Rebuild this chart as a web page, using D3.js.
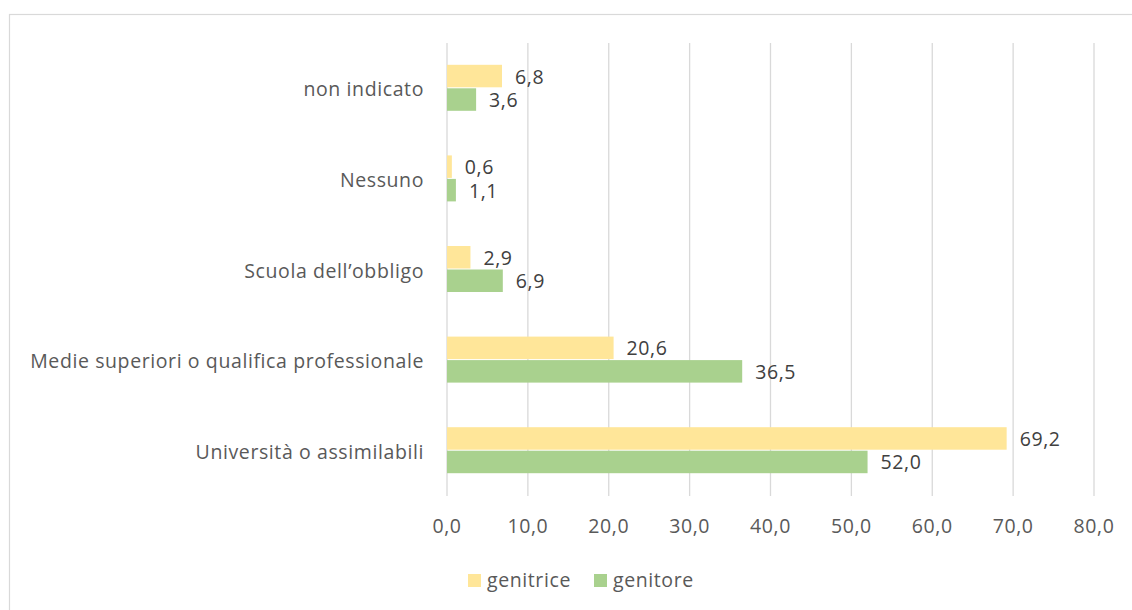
<html>
<head>
  <meta charset="utf-8">
  <title>bar</title>
  <script src="https://d3js.org/d3.v7.min.js"></script>
  <style>
    body { margin: 0; background: #fff; }
    text { font-family: "Open Sans", sans-serif; letter-spacing: 0.6px; }
  </style>
</head>
<body>
<script>
var categories = ["non indicato", "Nessuno", "Scuola dell\u2019obbligo", "Medie superiori o qualifica professionale", "Universit\u00e0 o assimilabili"];
var series = ["genitrice", "genitore"];
var genitrice = [6.8, 0.6, 2.9, 20.6, 69.2];
var genitore = [3.6, 1.1, 6.9, 36.5, 52.0];
var ticks = [0, 10, 20, 30, 40, 50, 60, 70, 80];

var colors = {genitrice: "#FFE699", genitore: "#A9D18E"};
var width = 1132, height = 610;
var fs = 19.5;

var svg = d3.select("body").append("svg")
  .attr("width", width).attr("height", height);

// chart frame (continues off the picture)
svg.append("rect")
  .attr("x", 9.5).attr("y", 14.5)
  .attr("width", 1140).attr("height", 620)
  .attr("fill", "none").attr("stroke", "#d9d9d9").attr("stroke-width", 1.2);

var x = d3.scaleLinear().domain([0, 80]).range([447, 1094]);
var y = d3.scaleBand().domain(categories).range([43, 496]);
var inner = d3.scaleBand().domain(series).range([0, 47]);
var off = (y.bandwidth() - 47) / 2;

// grid
svg.append("g").selectAll("line")
  .data(ticks).enter().append("line")
  .attr("x1", function(d){ return x(d); })
  .attr("x2", function(d){ return x(d); })
  .attr("y1", 43).attr("y2", 496)
  .attr("stroke", "#d9d9d9").attr("stroke-width", 1.3);

// x tick labels
svg.append("g").selectAll("text")
  .data(ticks).enter().append("text")
  .attr("x", function(d){ return x(d); })
  .attr("y", 533)
  .attr("text-anchor", "middle")
  .attr("font-size", fs)
  .attr("fill", "#595959")
  .text(function(d){ return d3.format(".1f")(d).replace(".", ","); });

// category labels
svg.append("g").selectAll("text")
  .data(categories).enter().append("text")
  .attr("x", 424)
  .attr("y", function(d){ return y(d) + y.bandwidth() / 2 + 8; })
  .attr("text-anchor", "end")
  .attr("font-size", fs)
  .attr("fill", "#595959")
  .text(function(d){ return d; });

var rows = [];
categories.forEach(function(c, i){
  rows.push({cat: c, s: "genitrice", v: genitrice[i]});
  rows.push({cat: c, s: "genitore", v: genitore[i]});
});

var bars = svg.append("g");
bars.selectAll("rect")
  .data(rows).enter().append("rect")
  .attr("x", x(0))
  .attr("y", function(d){ return y(d.cat) + off + inner(d.s); })
  .attr("width", function(d){ return x(d.v) - x(0); })
  .attr("height", inner.bandwidth() - 1)
  .attr("fill", function(d){ return colors[d.s]; });

bars.selectAll("text")
  .data(rows).enter().append("text")
  .attr("x", function(d){ return x(d.v) + 13; })
  .attr("y", function(d){ return y(d.cat) + off + inner(d.s) + inner.bandwidth() / 2 + 7; })
  .attr("font-size", fs)
  .attr("fill", "#404040")
  .text(function(d){ return d3.format(".1f")(d.v).replace(".", ","); });

// legend
var leg = svg.append("g");
var lx = [468, 594];
series.forEach(function(s, i){
  leg.append("rect")
    .attr("x", lx[i]).attr("y", 574)
    .attr("width", 13).attr("height", 13)
    .attr("fill", colors[s]);
  leg.append("text")
    .attr("x", lx[i] + 19).attr("y", 587)
    .attr("font-size", fs)
    .attr("fill", "#595959")
    .text(s);
});
</script>
</body>
</html>
